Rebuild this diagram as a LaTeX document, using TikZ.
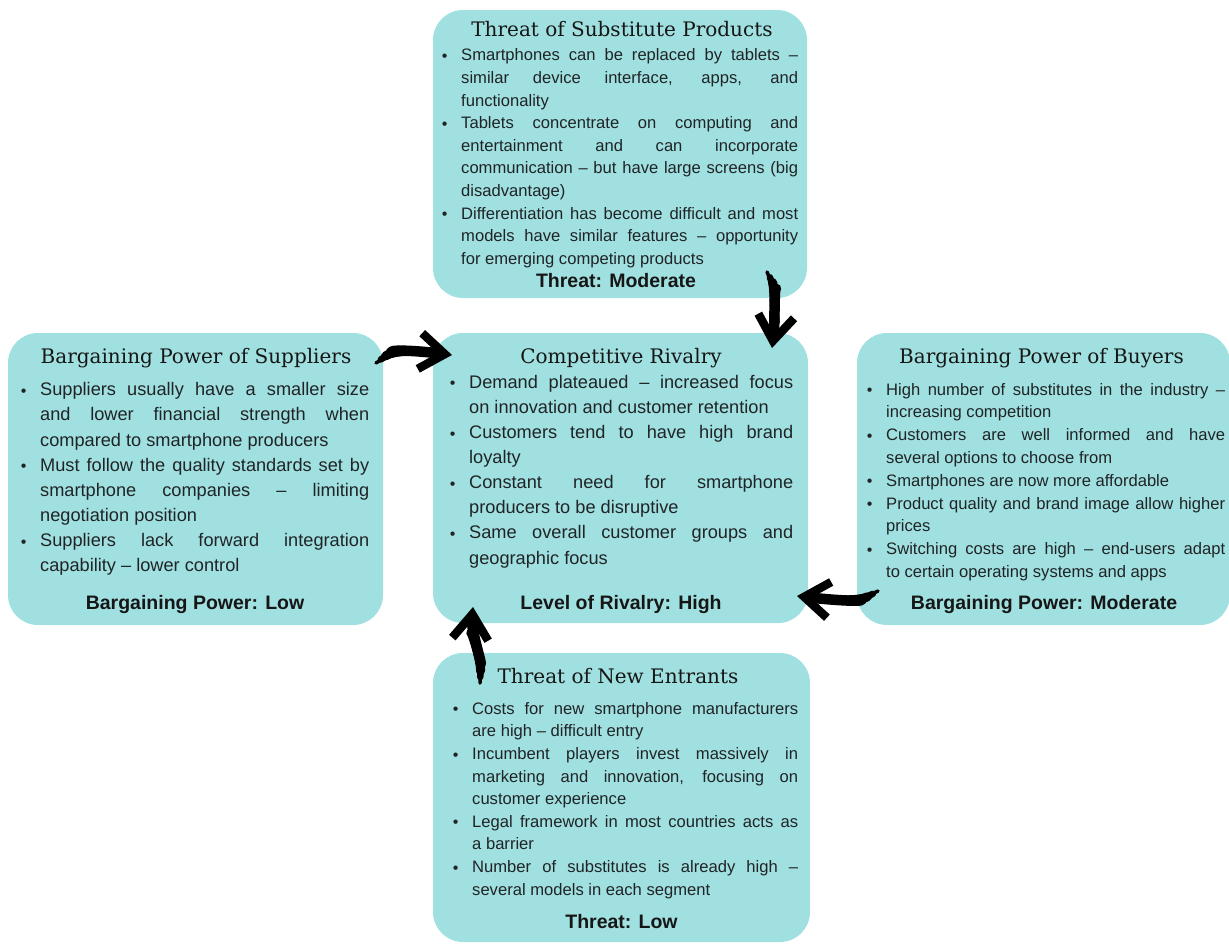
\documentclass[tikz,border=0pt]{standalone}
\usepackage{fontspec}
\setmainfont{Liberation Sans}
\newfontfamily\titlefont{DejaVu Serif}
\usetikzlibrary{arrows.meta}
\definecolor{boxfill}{RGB}{161,224,224}
\definecolor{ink}{RGB}{32,36,38}
\definecolor{tink}{RGB}{22,22,22}
\hyphenpenalty=10000
\exhyphenpenalty=10000
\tolerance=10000
\newcommand\bitem{\par\noindent\llap{\makebox[33pt][c]{\fontsize{16}{16}\selectfont\raisebox{-0.6pt}{•}}}\rule{0pt}{15pt}}
\newcommand\bodyS{\fontsize{16.6}{22.6}\selectfont}
\newcommand\bodyR{\fontsize{16.6}{22.8}\selectfont}
\newcommand\bodyL{\fontsize{18.2}{25.1}\selectfont}
\tikzset{
  box/.style={fill=boxfill, rounded corners=30pt, inner sep=0pt, draw=none},
  ttl/.style={font=\titlefont\fontsize{20}{24}\selectfont, text=tink, anchor=base, inner sep=0pt},
  ftr/.style={font=\bfseries\fontsize{19.5}{23}\selectfont, text=tink, anchor=base, inner sep=0pt},
  lst/.style={anchor=north west, inner sep=0pt, align=justify, text=ink},
  brush/.style={
    preaction={draw, -, line width=3.5pt, line cap=round, shorten <=0pt, shorten >=26pt},
    preaction={draw, -, line width=6.5pt, line cap=round, shorten <=6pt, shorten >=26pt},
    preaction={draw, -, line width=9pt, line cap=round, shorten <=12pt, shorten >=26pt},
    line width=10.5pt, line cap=round, draw=black, shorten <=19pt,
    -{Straight Barb[length=25pt, width=36pt, line width=8.5pt]}}
}
\begin{document}
\begin{tikzpicture}[x=1pt, y=-1pt]
\useasboundingbox (0,0) rectangle (1229,943);
% boxes
\node[box, minimum width=374pt, minimum height=288pt] (sub) at (620,154) {};
\node[box, minimum width=375pt, minimum height=290pt] (riv) at (620.5,478) {};
\node[box, minimum width=375pt, minimum height=292pt] (sup) at (195.5,479) {};
\node[box, minimum width=373pt, minimum height=292pt] (buy) at (1043.5,479) {};
\node[box, minimum width=377pt, minimum height=289pt] (new) at (621.5,797.5) {};
% titles
\node[ttl] (subT) at (622,36) {Threat of Substitute Products};
\node[ttl] (rivT) at (621,363) {Competitive Rivalry};
\node[ttl] (supT) at (196,363) {Bargaining Power of Suppliers};
\node[ttl] (buyT) at (1041.5,363) {Bargaining Power of Buyers};
\node[ttl] (newT) at (618,683) {Threat of New Entrants};
% lists
\node[lst, font=\bodyS, text width=337pt] (subL) at (461,38) {%
\bitem Smartphones can be replaced by tablets –\linebreak similar device interface, apps, and\linebreak functionality
\bitem Tablets concentrate on computing and\linebreak entertainment and can incorporate\linebreak communication – but have large screens (big\linebreak disadvantage)
\bitem Differentiation has become difficult and most\linebreak models have similar features – opportunity\linebreak for emerging competing products\par};
\node[lst, font=\bodyL, text width=324pt] (rivL) at (469,363) {%
\bitem Demand plateaued – increased focus\linebreak on innovation and customer retention
\bitem Customers tend to have high brand\linebreak loyalty
\bitem Constant need for smartphone\linebreak producers to be disruptive
\bitem Same overall customer groups and\linebreak geographic focus\par};
\node[lst, font=\bodyL, text width=329pt] (supL) at (40,370.5) {%
\bitem Suppliers usually have a smaller size\linebreak and lower financial strength when\linebreak compared to smartphone producers
\bitem Must follow the quality standards set by\linebreak smartphone companies – limiting\linebreak negotiation position
\bitem Suppliers lack forward integration\linebreak capability – lower control\par};
\node[lst, font=\bodyR, text width=339pt] (buyL) at (886,372) {%
\bitem High number of substitutes in the industry –\linebreak increasing competition
\bitem Customers are well informed and have\linebreak several options to choose from
\bitem Smartphones are now more affordable
\bitem Product quality and brand image allow higher\linebreak prices
\bitem Switching costs are high – end-users adapt\linebreak to certain operating systems and apps\par};
\node[lst, font=\bodyS, text width=326pt] (newL) at (472,691.5) {%
\bitem Costs for new smartphone manufacturers\linebreak are high – difficult entry
\bitem Incumbent players invest massively in\linebreak marketing and innovation, focusing on\linebreak customer experience
\bitem Legal framework in most countries acts as\linebreak a barrier
\bitem Number of substitutes is already high –\linebreak several models in each segment\par};
% footers
\node[ftr] (subF) at (616,287) {Threat: Moderate};
\node[ftr] (rivF) at (621,609) {Level of Rivalry: High};
\node[ftr] (supF) at (195,609) {Bargaining Power: Low};
\node[ftr] (buyF) at (1044,609) {Bargaining Power: Moderate};
\node[ftr] (newF) at (621.5,928) {Threat: Low};
% arrows
\coordinate (a1s) at (376,363);
\coordinate (a1e) at (452,355);
\coordinate (a2s) at (767,272);
\coordinate (a2e) at (772,348);
\coordinate (a3s) at (878,591);
\coordinate (a3e) at (797,596);
\coordinate (a4s) at (480,683);
\coordinate (a4e) at (473,607);
\draw[brush] (a1s) .. controls (395,349) and (428,352) .. (a1e);
\draw[brush] (a2s) .. controls (774,285) and (775,325) .. (a2e);
\draw[brush] (a3s) .. controls (858,602) and (822,599) .. (a3e);
\draw[brush] (a4s) .. controls (481,660) and (471,630) .. (a4e);
\end{tikzpicture}
\end{document}
